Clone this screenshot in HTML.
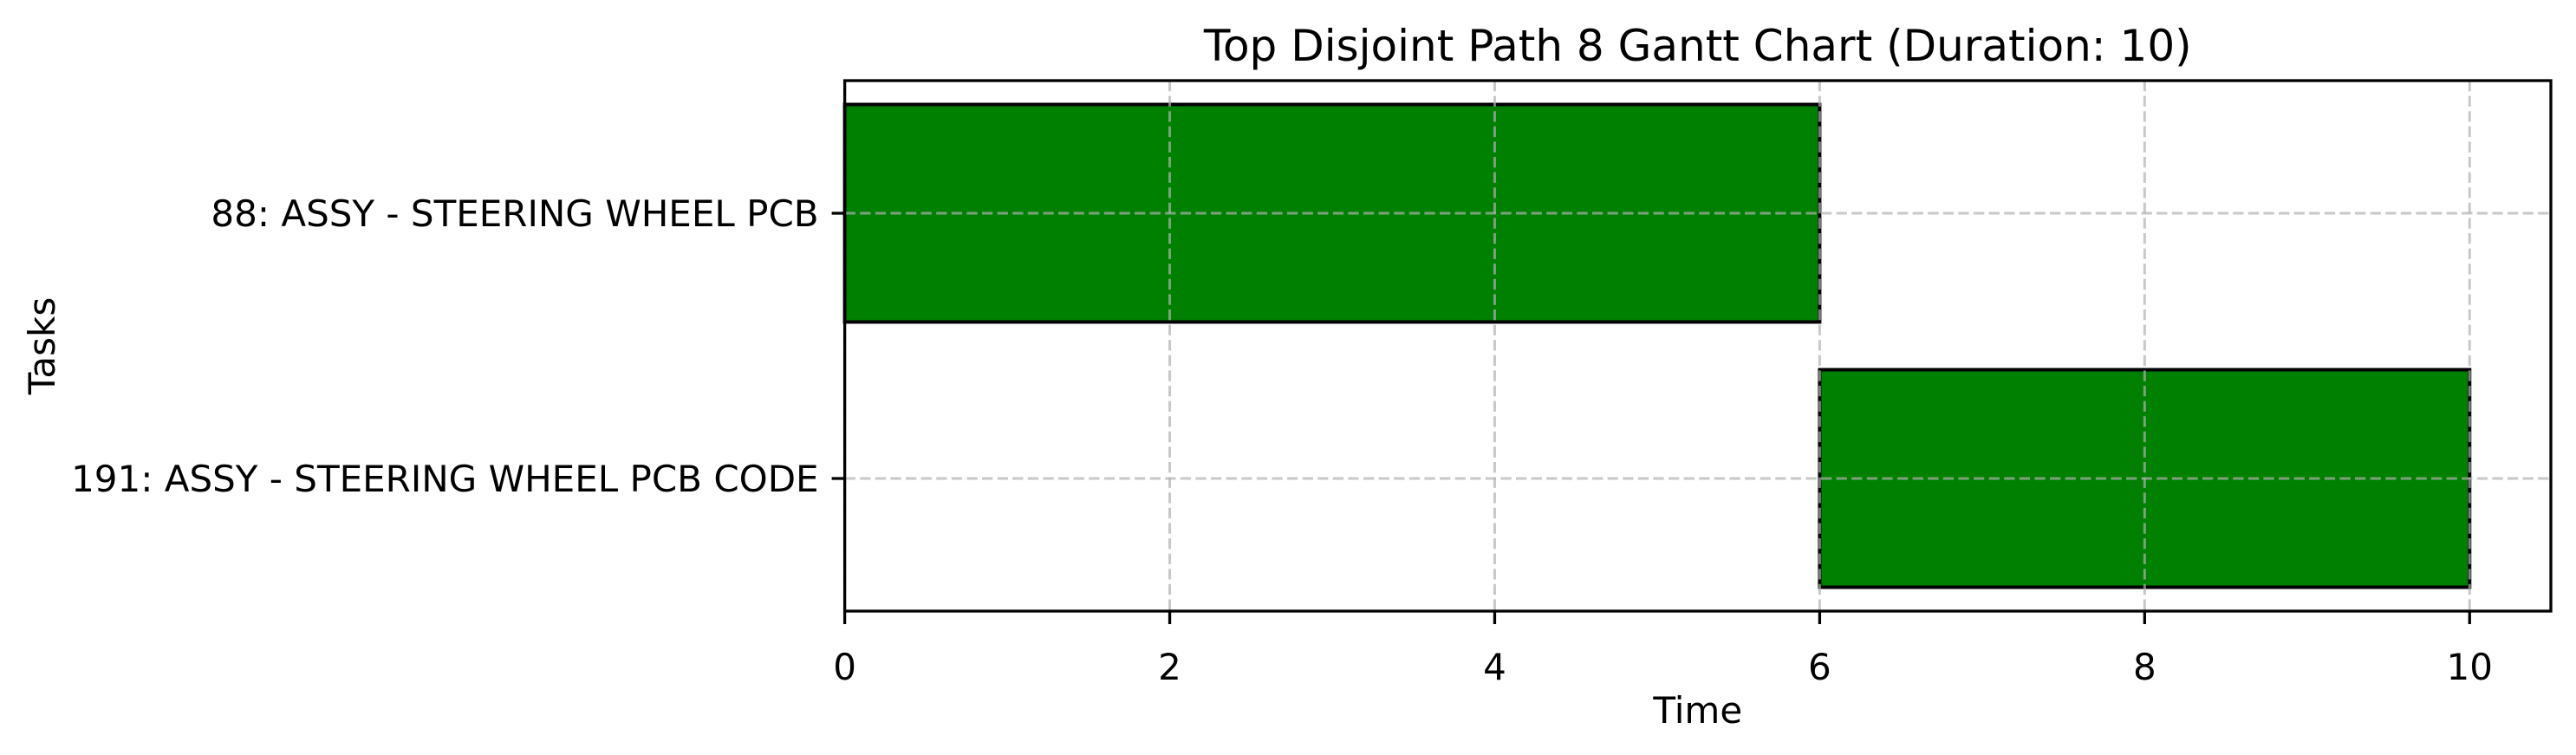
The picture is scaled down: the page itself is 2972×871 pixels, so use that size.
<!DOCTYPE html>
<html><head><meta charset="utf-8"><style>
body{margin:0;background:#fff}
svg text{font-family:"DejaVu Sans","Liberation Sans",sans-serif;fill:#000}
</style></head><body>
<svg id="chart" width="2972" height="866" xmlns="http://www.w3.org/2000/svg">
<rect width="2972" height="866" fill="#fff"/>
<g id="bars"></g><g id="grid"></g><g id="axes"></g>
</svg>
<script>
const tasks = ["191: ASSY - STEERING WHEEL PCB CODE", "88: ASSY - STEERING WHEEL PCB"];
const starts = [6, 0];
const durations = [4, 6];
const xTicks = [0, 2, 4, 6, 8, 10];
const title = "Top Disjoint Path 8 Gantt Chart (Duration: 10)";

const L=974.6, R=2943, T=93, B=705;
const xMin=0, xMax=10.5;
const yMin=-0.5, yMax=1.5;
const X=v=>L+(v-xMin)/(xMax-xMin)*(R-L);
const Y=v=>B-(v-yMin)/(yMax-yMin)*(B-T);
const NS="http://www.w3.org/2000/svg";
function mk(parent,tag,attrs){const e=document.createElementNS(NS,tag);for(const k in attrs)e.setAttribute(k,attrs[k]);document.getElementById(parent).appendChild(e);return e;}

tasks.forEach((t,i)=>{
  const r=mk('bars','rect',{x:X(starts[i]),y:Y(i+0.41),width:X(starts[i]+durations[i])-X(starts[i]),height:Y(i-0.41)-Y(i+0.41),fill:'#008000',stroke:'#000','stroke-width':4});
  
  
});
xTicks.forEach(v=>{
  const g=mk('grid','line',{x1:X(v),x2:X(v),y1:T,y2:B,stroke:'#b0b0b0','stroke-opacity':0.7,'stroke-width':3,'stroke-dasharray':'12.3,5.3'});
  
  
  const tk=mk('axes','line',{x1:X(v),x2:X(v),y1:B,y2:B+15,stroke:'#000','stroke-width':3.3});
  
  
  const tx=mk('axes','text',{x:X(v),y:784,'text-anchor':'middle','font-size':42});
  tx.textContent=v;
  
  
});
tasks.forEach((t,i)=>{
  const g=mk('grid','line',{x1:L,x2:R,y1:Y(i),y2:Y(i),stroke:'#b0b0b0','stroke-opacity':0.7,'stroke-width':3,'stroke-dasharray':'12.3,5.3'});
  
  
  const tk=mk('axes','line',{x1:L-15,x2:L,y1:Y(i),y2:Y(i),stroke:'#000','stroke-width':3.3});
  
  
  const tx=mk('axes','text',{x:L-30,y:Y(i)+15,'text-anchor':'end','font-size':42});
  tx.textContent=t;
  
  
});
const fr=mk('axes','rect',{x:L,y:T,width:R-L,height:B-T,fill:'none',stroke:'#000','stroke-width':3.3});


const tt=mk('axes','text',{x:(L+R)/2,y:70,'text-anchor':'middle','font-size':50});
tt.textContent=title;


const xl=mk('axes','text',{x:(L+R)/2,y:834,'text-anchor':'middle','font-size':42});
xl.textContent="Time";


const yl=mk('axes','text',{x:0,y:0,'text-anchor':'middle','font-size':42,transform:`translate(63,${(T+B)/2}) rotate(-90)`});
yl.textContent="Tasks";


</script>
</body></html>
